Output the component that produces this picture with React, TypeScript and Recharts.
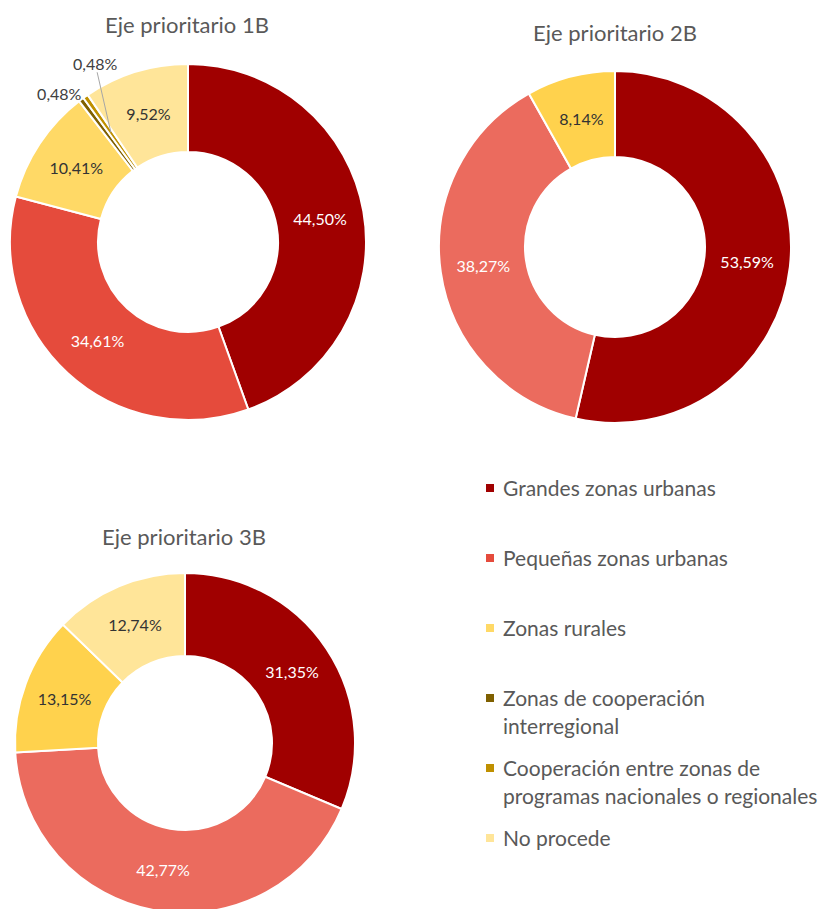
import React from "react";
import { PieChart, Pie, Cell, Legend } from "recharts";

const legendText = [
  "Grandes zonas urbanas",
  "Pequeñas zonas urbanas",
  "Zonas rurales",
  "Zonas de cooperación\ninterregional",
  "Cooperación entre zonas de\nprogramas nacionales o regionales",
  "No procede",
];
const categories = legendText.map((t) => t.replace("\n", " "));

// percentages per eje, same order as categories
const eje1B = [44.5, 34.61, 10.41, 0.48, 0.48, 9.52];
const eje2B = [53.59, 38.27, 8.14, 0, 0, 0];
const eje3B = [31.35, 42.77, 13.15, 0, 0, 12.74];

const colors1 = ["#A00000", "#E54B3C", "#FFD966", "#7F6000", "#BF9000", "#FFE599"];
const colors23 = ["#A00000", "#EB6B5E", "#FFD24D", "#7F6000", "#BF9000", "#FFE599"];

const FONT = "Lato, 'Open Sans', sans-serif";
const RADIAN = Math.PI / 180;
const LABEL_SIZE = 16;

const buildData = (values: number[], colors: string[]) =>
  categories
    .map((name, i) => ({ name, value: values[i], color: colors[i], idx: i }))
    .filter((d) => d.value > 0);

const fmt = (v: number) => v.toFixed(2).replace(".", ",") + "%";

const renderLabel = (props: any) => {
  const { cx, cy, midAngle, innerRadius, outerRadius, payload, value } = props;
  const cos = Math.cos(-midAngle * RADIAN);
  const sin = Math.sin(-midAngle * RADIAN);
  const idx = payload.idx;
  const dark = idx === 0 || idx === 1;
  const fill = dark ? "#ffffff" : "#333333";
  if (value < 1) {
    // small slices: labels outside
    const mid = (innerRadius + outerRadius) / 2;
    if (idx === 3) {
      const r = outerRadius + 8;
      return (
        <text x={cx + r * cos + 5} y={cy + r * sin} textAnchor="end" dominantBaseline="central"
          fill="#404040" fontSize={LABEL_SIZE} fontFamily={FONT}>
          {fmt(value)}
        </text>
      );
    }
    const r = outerRadius + 32;
    const lx = cx + r * cos + 28;
    const ly = cy + r * sin;
    return (
      <g>
        <line x1={lx + 2} y1={ly + 2} x2={cx + mid * cos} y2={cy + mid * sin} stroke="#A6A6A6" strokeWidth={1} />
        <text x={lx} y={ly - 7} textAnchor="middle" dominantBaseline="central"
          fill="#404040" fontSize={LABEL_SIZE} fontFamily={FONT}>
          {fmt(value)}
        </text>
      </g>
    );
  }
  const r = (innerRadius + outerRadius) / 2;
  return (
    <text x={cx + r * cos} y={cy + r * sin} textAnchor="middle" dominantBaseline="central"
      fill={fill} fontSize={LABEL_SIZE} fontFamily={FONT}>
      {fmt(value)}
    </text>
  );
};

const renderLegend = (props: any) => {
  const items = [...(props.payload || [])].sort(
    (a: any, b: any) => categories.indexOf(a.value) - categories.indexOf(b.value)
  );
  return (
    <div style={{ fontFamily: FONT, fontSize: 21, color: "#595959" }}>
      {items.map((entry: any, i: number) => (
        <div key={i} style={{ position: "relative", height: 70, lineHeight: "28px" }}>
          <span style={{ position: "absolute", left: 0, top: 10, width: 8, height: 8, background: entry.color }} />
          <div style={{ position: "absolute", left: 17, top: 0, whiteSpace: "pre" }}>
            {legendText[categories.indexOf(entry.value)]}
          </div>
        </div>
      ))}
    </div>
  );
};

const Title = ({ text, x, y }: { text: string; x: number; y: number }) => (
  <div style={{ position: "absolute", left: x - 150, top: y - 14, width: 300, textAlign: "center",
    fontFamily: FONT, fontSize: 22, color: "#595959", lineHeight: "28px" }}>
    {text}
  </div>
);

const Donut = ({ data, cx, cy, outer, inner }: any) => (
  <Pie data={data} dataKey="value" nameKey="name" cx={cx} cy={cy} outerRadius={outer} innerRadius={inner}
    startAngle={90} endAngle={-270} stroke="#ffffff" strokeWidth={2} label={renderLabel} labelLine={false}
    isAnimationActive={false}>
    {data.map((d: any, i: number) => (
      <Cell key={i} fill={d.color} />
    ))}
  </Pie>
);

export default function App() {
  const d1 = buildData(eje1B, colors1);
  const d2 = buildData(eje2B, colors23);
  const d3 = buildData(eje3B, colors23);
  return (
    <div style={{ position: "absolute", left: 0, top: 0, width: 832, height: 909, background: "#fff", overflow: "hidden" }}>
      <Title text="Eje prioritario 1B" x={187} y={25} />
      <Title text="Eje prioritario 2B" x={615} y={33} />
      <Title text="Eje prioritario 3B" x={184} y={537} />
      <div style={{ position: "absolute", left: 0, top: 0 }}>
        <PieChart width={400} height={440} margin={{ top: 0, right: 0, bottom: 0, left: 0 }}>
          {Donut({ data: d1, cx: 188, cy: 242, outer: 178, inner: 90 })}
          <Legend content={renderLegend}
            wrapperStyle={{ position: "absolute", left: 486, top: 474, width: 346, bottom: "auto" }} />
        </PieChart>
      </div>
      <div style={{ position: "absolute", left: 416, top: 0 }}>
        <PieChart width={416} height={440} margin={{ top: 0, right: 0, bottom: 0, left: 0 }}>
          {Donut({ data: d2, cx: 199, cy: 247, outer: 176, inner: 90 })}
        </PieChart>
      </div>
      <div style={{ position: "absolute", left: 0, top: 500 }}>
        <PieChart width={420} height={409} margin={{ top: 0, right: 0, bottom: 0, left: 0 }}>
          {Donut({ data: d3, cx: 185, cy: 243, outer: 170, inner: 87 })}
        </PieChart>
      </div>
    </div>
  );
}
